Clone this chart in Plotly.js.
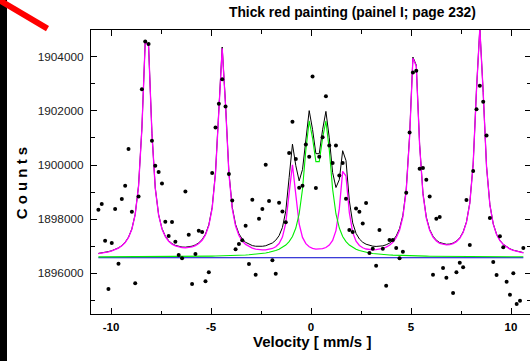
<!DOCTYPE html>
<html>
<head>
<meta charset="utf-8">
<script src="https://cdn.plot.ly/plotly-3.0.1.min.js"></script>
<style>
html,body{margin:0;padding:0;overflow:hidden;background:#fff;}
#chart{width:540px;height:361px;}
</style>
</head>
<body>
<div id="chart"></div>
<script>
// Velocity channels (mm/s)
const velocity = [-10.630,-10.463,-10.295,-10.128,-9.961,-9.794,-9.626,-9.459,-9.292,-9.124,-8.957,-8.790,-8.622,-8.455,-8.288,-8.121,-7.953,-7.786,-7.619,-7.451,-7.284,-7.117,-6.949,-6.782,-6.615,-6.448,-6.280,-6.113,-5.946,-5.778,-5.611,-5.444,-5.276,-5.109,-4.942,-4.775,-4.607,-4.440,-4.273,-4.105,-3.938,-3.771,-3.603,-3.436,-3.269,-3.102,-2.934,-2.767,-2.600,-2.432,-2.265,-2.098,-1.930,-1.763,-1.596,-1.429,-1.261,-1.094,-0.927,-0.759,-0.592,-0.425,-0.257,-0.090,0.077,0.244,0.412,0.579,0.746,0.914,1.081,1.248,1.416,1.583,1.750,1.917,2.085,2.252,2.419,2.587,2.754,2.921,3.089,3.256,3.423,3.591,3.758,3.925,4.092,4.260,4.427,4.594,4.762,4.929,5.096,5.264,5.431,5.598,5.766,5.933,6.100,6.267,6.435,6.602,6.769,6.937,7.104,7.271,7.439,7.606,7.773,7.940,8.108,8.275,8.442,8.610,8.777,8.944,9.112,9.279,9.446,9.614,9.781,9.948,10.116,10.283,10.450,10.617];

// Measured counts (black dots)
const counts = [1898348,1898557,1897204,1895421,1897118,1898373,1896355,1898742,1899234,1900587,1898274,1895630,1898840,1902801,1904560,1904473,1900894,1899972,1899738,1899320,1897905,1897376,1897893,1897167,1896675,1896552,1899025,1897425,1895605,1896712,1897573,1897524,1895704,1896036,1899701,1901386,1902259,1903170,1902161,1899664,1898693,1896884,1897081,1897217,1897758,1896343,1898717,1895950,1898016,1898373,1900008,1898668,1896479,1895986,1898606,1898287,1897881,1900439,1901595,1900218,1899160,1899234,1900759,1900304,1903268,1899148,1900304,1901029,1902542,1900722,1900070,1900722,1899615,1900070,1898754,1897598,1897524,1898397,1898274,1897844,1898594,1896749,1896909,1896282,1897598,1896909,1895544,1897229,1897229,1896934,1896552,1896798,1898975,1901202,1903416,1903477,1899861,1899886,1899455,1898840,1895950,1898016,1898077,1896196,1895839,null,1895273,1896036,1896392,1896220,1898705,1897044,1899775,1902063,1902924,1902333,1901091,1898041,1896417,1895937,1897364,1896958,1895691,1895211,1895999,1894867,1894990,1896934];

// Sextet subspectrum (magenta)
const sextet = [1896727,1896744,1896765,1896792,1896826,1896870,1896930,1897014,1897136,1897324,1897629,1898168,1899221,1901351,1904564,1904388,1901158,1899137,1898149,1897638,1897354,1897185,1897078,1897012,1896971,1896949,1896943,1896952,1896977,1897023,1897098,1897218,1897416,1897759,1898400,1899691,1902205,1904314,1902201,1899683,1898388,1897744,1897395,1897193,1897067,1896984,1896930,1896895,1896873,1896864,1896866,1896882,1896916,1896981,1897101,1897338,1897853,1898963,1900008,1898903,1897822,1897326,1897096,1896981,1896921,1896894,1896890,1896908,1896953,1897043,1897216,1897577,1898388,1899766,1899591,1898236,1897509,1897185,1897027,1896943,1896898,1896876,1896869,1896874,1896891,1896921,1896968,1897038,1897145,1897314,1897591,1898087,1899058,1901027,1903942,1903647,1900728,1898923,1898039,1897588,1897339,1897194,1897109,1897064,1897048,1897058,1897095,1897168,1897293,1897506,1897879,1898582,1900019,1902778,1905050,1902665,1899935,1898522,1897814,1897432,1897205,1897060,1896963,1896895,1896844,1896807,1896778,1896754];

// Doublet subspectrum (green)
const doublet = [1896608,1896608,1896609,1896609,1896609,1896610,1896610,1896610,1896611,1896611,1896611,1896612,1896612,1896613,1896613,1896614,1896614,1896615,1896615,1896616,1896617,1896618,1896618,1896619,1896620,1896621,1896622,1896624,1896625,1896626,1896628,1896629,1896631,1896633,1896635,1896638,1896640,1896643,1896647,1896650,1896654,1896659,1896664,1896670,1896677,1896685,1896694,1896705,1896718,1896734,1896752,1896776,1896804,1896841,1896889,1896953,1897043,1897170,1897362,1897671,1898191,1899108,1900560,1901627,1900994,1900126,1900126,1900994,1901627,1900560,1899108,1898191,1897671,1897362,1897170,1897043,1896953,1896889,1896841,1896804,1896776,1896752,1896734,1896718,1896705,1896694,1896685,1896677,1896670,1896664,1896659,1896654,1896650,1896647,1896643,1896640,1896638,1896635,1896633,1896631,1896629,1896628,1896626,1896625,1896624,1896622,1896621,1896620,1896619,1896618,1896618,1896617,1896616,1896615,1896615,1896614,1896614,1896613,1896613,1896612,1896612,1896611,1896611,1896611,1896610,1896610,1896610,1896609];

// Total fit (black line)
const totalFit = [1896735,1896752,1896774,1896801,1896835,1896880,1896940,1897024,1897147,1897335,1897640,1898180,1899233,1901364,1904577,1904402,1901172,1899152,1898164,1897654,1897371,1897203,1897096,1897031,1896991,1896970,1896965,1896976,1897002,1897049,1897126,1897247,1897447,1897792,1898435,1899729,1902245,1904357,1902248,1899733,1898442,1897803,1897459,1897263,1897144,1897069,1897024,1897000,1896991,1896998,1897018,1897058,1897120,1897222,1897390,1897691,1898296,1899533,1900770,1899974,1899413,1899834,1901056,1902008,1901315,1900420,1900416,1901302,1901980,1901003,1899724,1899168,1899459,1900528,1900161,1898679,1897862,1897474,1897268,1897147,1897074,1897028,1897003,1896992,1896996,1897015,1897053,1897115,1897215,1897378,1897650,1898141,1899108,1901074,1903985,1903687,1900766,1898958,1898072,1897619,1897368,1897222,1897135,1897089,1897072,1897080,1897116,1897188,1897312,1897524,1897897,1898599,1900035,1902793,1905065,1902679,1899949,1898535,1897827,1897444,1897217,1897071,1896974,1896906,1896854,1896817,1896788,1896763];

// Baseline (blue)
const baselineX = [-10.630, 10.617];
const baselineY = [1896575, 1896575];

// Axis ticks
const xTickVals = [-10, -5, 0, 5, 10];
const xTickText = ['-10', '-5', '0', '5', '10'];
const yTickVals = [1896000, 1898000, 1900000, 1902000, 1904000];
const yTickText = ['1896000', '1898000', '1900000', '1902000', '1904000'];

const titleText = 'Thick red painting (painel I; page 232)';
const xTitleText = 'Velocity [ mm/s ]';
const yTitleText = 'C o u n t s';

const FONT = 'Liberation Sans, Arial, sans-serif';
const W = 540, H = 361, ML = 91, MR = 9, MT = 30, MB = 47;
const PW = W - ML - MR, PH = H - MT - MB;
const px = X => (X - ML) / PW;
const py = Y => (H - MB - Y) / PH;

const traces = [
  {x: velocity, y: totalFit, mode: 'lines', line: {color: '#000000', width: 1}, hoverinfo: 'skip'},
  {x: velocity, y: sextet, mode: 'lines', line: {color: '#ff00ff', width: 1.3}, hoverinfo: 'skip'},
  {x: baselineX, y: baselineY, mode: 'lines', line: {color: '#0000cc', width: 1}, hoverinfo: 'skip'},
  {x: velocity, y: doublet, mode: 'lines', line: {color: '#00ee00', width: 1.1}, hoverinfo: 'skip'},
  {x: velocity, y: counts, mode: 'markers', marker: {color: '#000000', size: 4}, hoverinfo: 'skip'}
];

const layout = {
  width: W, height: H,
  margin: {l: ML, r: MR, t: MT, b: MB, pad: 0},
  paper_bgcolor: '#ffffff', plot_bgcolor: '#ffffff',
  showlegend: false,
  font: {family: FONT, color: '#000000'},
  xaxis: {
    range: [-11, 11], tickmode: 'array', tickvals: xTickVals, ticktext: xTickText,
    ticks: 'inside', ticklen: 6, tickwidth: 1, tickcolor: '#000',
    minor: {dtick: 2.5, tick0: 0, ticks: 'inside', ticklen: 3.5, tickwidth: 1, tickcolor: '#000', showgrid: false},
    showline: true, linecolor: '#000', linewidth: 1, mirror: 'allticks',
    showgrid: false, zeroline: false,
    tickfont: {family: FONT, size: 11.5, weight: 'bold', color: '#000'},
    ticklabelstandoff: 2
  },
  yaxis: {
    range: [1894497, 1904986], tickmode: 'array', tickvals: yTickVals, ticktext: yTickText,
    ticks: 'inside', ticklen: 6, tickwidth: 1, tickcolor: '#000',
    minor: {dtick: 1000, tick0: 1896000, ticks: 'inside', ticklen: 4, tickwidth: 1, tickcolor: '#000', showgrid: false},
    showline: true, linecolor: '#000', linewidth: 1, mirror: 'allticks',
    showgrid: false, zeroline: false,
    tickfont: {family: FONT, size: 11.8, color: '#222'},
    ticklabelstandoff: 4
  },
  annotations: [
    {text: '<b>' + titleText + '</b>', xref: 'paper', yref: 'paper', x: px(352.5), y: py(12), xanchor: 'center', yanchor: 'middle', showarrow: false, font: {family: FONT, size: 13.8, color: '#000'}},
    {text: '<b>' + xTitleText + '</b>', xref: 'paper', yref: 'paper', x: px(311.7), y: py(341), xanchor: 'center', yanchor: 'middle', showarrow: false, font: {family: FONT, size: 15, color: '#000'}},
    {text: '<b>' + yTitleText + '</b>', xref: 'paper', yref: 'paper', x: px(21), y: py(183.3), xanchor: 'center', yanchor: 'middle', textangle: -90, showarrow: false, font: {family: FONT, size: 15, color: '#000'}}
  ],
  shapes: [
    {type: 'rect', xref: 'paper', yref: 'paper', x0: px(0), x1: px(7), y0: py(361), y1: py(0), fillcolor: '#000', line: {width: 0}, layer: 'above'},
    {type: 'line', xref: 'paper', yref: 'paper', x0: px(-4), y0: py(-1.8), x1: px(47.5), y1: py(28.7), line: {color: '#ff0000', width: 6}, layer: 'above'}
  ]
};

Plotly.newPlot('chart', traces, layout, {staticPlot: true, displayModeBar: false});
</script>
</body>
</html>
